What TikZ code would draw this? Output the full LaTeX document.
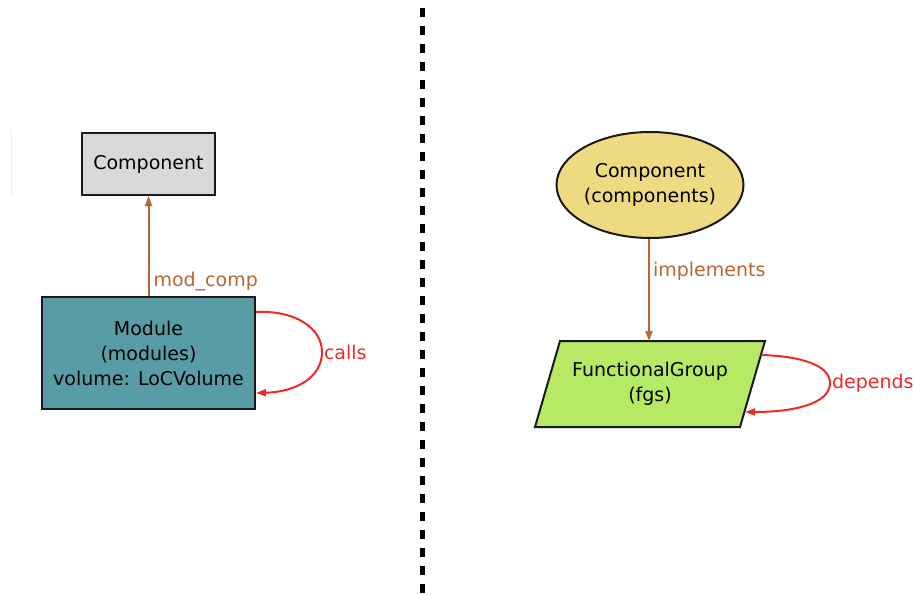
\documentclass[tikz,border=0pt]{standalone}
\usepackage{fontspec}
\setmainfont{DejaVu Sans}
\usetikzlibrary{arrows.meta,shapes.geometric}
\definecolor{edgebrown}{RGB}{184,102,50}
\definecolor{edgered}{RGB}{232,44,40}
\definecolor{tealfill}{RGB}{88,157,166}
\definecolor{greyfill}{RGB}{217,217,217}
\definecolor{khakifill}{RGB}{238,218,128}
\definecolor{greenfill}{RGB}{182,234,100}
\definecolor{outline}{RGB}{25,25,25}
\begin{document}
\begin{tikzpicture}[x=1pt,y=-1pt,
  every node/.style={font=\fontsize{19}{25}\selectfont, inner sep=0pt},
  entity/.style={draw=outline, line width=2pt, align=center},
  shapebox/.style={draw=outline, line width=2pt},
  label/.style={anchor=west},
  rel/.style={draw=edgebrown, line width=2pt, -{Triangle[length=10pt,width=7pt]}},
  selfrel/.style={draw=edgered, line width=2pt, -{Triangle[length=10pt,width=7pt]}},
  divider/.style={line width=5pt, dash pattern=on 9pt off 9pt}]
\useasboundingbox[fill=white] (0,0) rectangle (915,594);

% faint margin mark on the left
\draw[gray!15, line width=1pt] (11,130) -- (11,196);

% separator between the two diagrams
\coordinate (sepTop) at (422,8);
\coordinate (sepBot) at (422,594);
\draw[divider] (sepTop) -- (sepBot);

% ---- left diagram ----
\node[entity, fill=greyfill, minimum width=133pt, minimum height=62pt] (comp) at (148.5,164) {Component};
\node[entity, fill=tealfill, minimum width=213pt, minimum height=112pt] (module) at (148.5,353) {Module\\(modules)\\volume: LoCVolume};

\draw[rel] (module.north -| comp.south) -- node[label, xshift=4pt, yshift=14pt, text=edgebrown, pos=0] {mod\_comp} (comp.south);

\coordinate (mOut) at ([yshift=-16pt]module.north east);
\coordinate (mIn) at ([yshift=17pt]module.south east);
\draw[selfrel] (mOut) .. controls (295,310) and (322,328) .. (322,352)
  node[label, text=edgered, xshift=1pt] {calls}
  .. controls (322,378) and (295,392) .. (mIn);

% ---- right diagram ----
\node[entity, ellipse, fill=khakifill, minimum width=178pt, minimum height=106pt] (compE) at (650,185) {Component\\(components)};

\draw[shapebox, fill=greenfill] (560,341) coordinate (fgTL) -- (765,341) coordinate (fgTR)
  -- (740,427) coordinate (fgBR) -- (535,427) coordinate (fgBL) -- cycle;
\node[align=center] (fg) at (650,384) {FunctionalGroup\\(fgs)};
\coordinate (fgTop) at (649,341);

\draw[rel] (compE.south -| fgTop) -- node[label, xshift=3pt, text=edgebrown, pos=0.32] {implements} (fgTop);

\coordinate (fgOut) at (761,355);
\coordinate (fgIn) at (745,412);
\draw[selfrel] (fgOut) .. controls (800,356) and (830,365) .. (830,383)
  node[label, text=edgered, xshift=1pt] {depends}
  .. controls (830,405) and (790,412) .. (fgIn);
\end{tikzpicture}
\end{document}
